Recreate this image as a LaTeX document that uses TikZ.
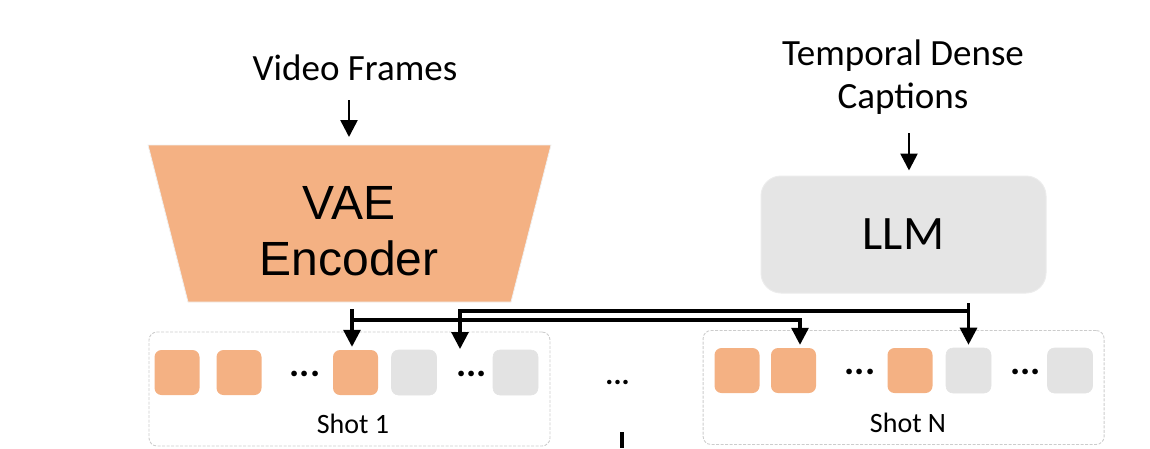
\documentclass[tikz,border=0pt]{standalone}
\usepackage{fontspec}
\setmainfont{Carlito}
\newfontfamily\arialfont{Liberation Sans}
\usetikzlibrary{arrows.meta}
\definecolor{orng}{HTML}{F4B183}
\definecolor{llmgray}{HTML}{E5E5E5}
\definecolor{sqgray}{HTML}{E3E3E3}
\begin{document}
\begin{tikzpicture}[x=1pt,y=-1pt,
  arr/.style={line width=3.1pt,-{Triangle[width=17pt,length=17pt]}},
  bus/.style={line width=3.1pt},
  osq/.style={rectangle,rounded corners=7pt,fill=orng,minimum width=45pt,minimum height=45pt,inner sep=0},
  gsq/.style={rectangle,rounded corners=7pt,fill=sqgray,draw=gray!22,line width=0.6pt,minimum width=45pt,minimum height=45pt,inner sep=0},
  shotbox/.style={rectangle,rounded corners=8pt,draw=gray!40,dash pattern=on 3pt off 1.5pt,line width=0.9pt,minimum width=401pt,minimum height=114pt,inner sep=0},
  lbl/.style={inner sep=0,anchor=base,font=\fontsize{37}{43}\selectfont},
  shotlbl/.style={inner sep=0,anchor=base,font=\fontsize{28}{34}\selectfont},
  dotsl/.style={inner sep=0,anchor=base,font=\fontsize{38}{43}\selectfont\bfseries}]
\useasboundingbox (0,0) rectangle (1150,448);

% input labels
\node[lbl] (vf) at (355,80) {Video Frames};
\node[lbl,align=center] (tdc) at (903,108) {Temporal Dense\\Captions};

% VAE encoder trapezoid
\coordinate (tl) at (148,145);
\coordinate (tr) at (551,145);
\coordinate (br) at (511,302);
\coordinate (bl) at (188,302);
\coordinate (tt) at (349,145);
\fill[orng] (tl) -- (tr) -- (br) -- (bl) -- cycle;
\draw[white!88!gray,line width=0.8pt] (tl) -- (tr) -- (br) -- (bl) -- cycle;
\node[inner sep=0,align=center,font=\arialfont\fontsize{48}{56}\selectfont] (vae) at (349,231) {VAE\\Encoder};

% LLM
\node[rectangle,rounded corners=20pt,fill=llmgray,draw=white!85!gray,line width=1pt,
      minimum width=285pt,minimum height=117pt,inner sep=0,font=\fontsize{48}{56}\selectfont] (llm) at (903.5,234.5) {LLM};

% input arrows
\draw[arr,line width=2.6pt,shorten <=20pt,shorten >=8pt] (vf.south -| tt) -- (tt);
\coordinate (cin) at (909,133);
\draw[arr,line width=2.6pt,shorten >=5pt] (cin) -- (cin |- llm.north);

% shot boxes
\node[shotbox] (shot1) at (349.5,389) {};
\node[shotbox] (shotN) at (903.6,387.5) {};

\node[osq] (s11) at (177,372.5) {};
\node[osq] (s12) at (239,372.5) {};
\node[dotsl] (d11) at (305,376) {...};
\node[osq] (s13) at (355.5,372.5) {};
\node[gsq] (s14) at (414,372.5) {};
\node[dotsl] (d12) at (471.5,376) {...};
\node[gsq] (s15) at (515.5,372.5) {};
\node[shotlbl] (l1) at (353,433) {Shot 1};

\node[osq] (sN1) at (737,370.5) {};
\node[osq] (sN2) at (793.5,370.5) {};
\node[dotsl] (dN1) at (860,374) {...};
\node[osq] (sN3) at (910,370.5) {};
\node[gsq] (sN4) at (968.5,370.5) {};
\node[dotsl] (dN2) at (1025.5,374) {...};
\node[gsq] (sN5) at (1070,370.5) {};
\node[shotlbl] (lN) at (908,432) {Shot N};

\node[inner sep=0,anchor=base,font=\fontsize{30}{34}\selectfont\bfseries] (mid) at (617.5,384) {...};
\coordinate (midtop) at (622,432);
\coordinate (midbot) at (622,448);
\draw[bus] (midtop) -- (midbot);

% bus connectors
\coordinate (vo) at (352,309);
\coordinate (lo) at (968.5,303);
\coordinate (b1) at (352,320);
\coordinate (b2) at (800,320);
\coordinate (u1) at (460,311);
\coordinate (u1d) at (460,349);
\coordinate (u2) at (968.5,311);
\draw[arr,shorten >=3pt] (vo) -- (vo |- s13.north);
\draw[arr,shorten >=3pt] (b1) -| (b2 |- sN2.north);
\draw[arr] (u2) -| (u1d);
\draw[arr,shorten >=3pt] (lo) -- (lo |- sN4.north);
\end{tikzpicture}
\end{document}
